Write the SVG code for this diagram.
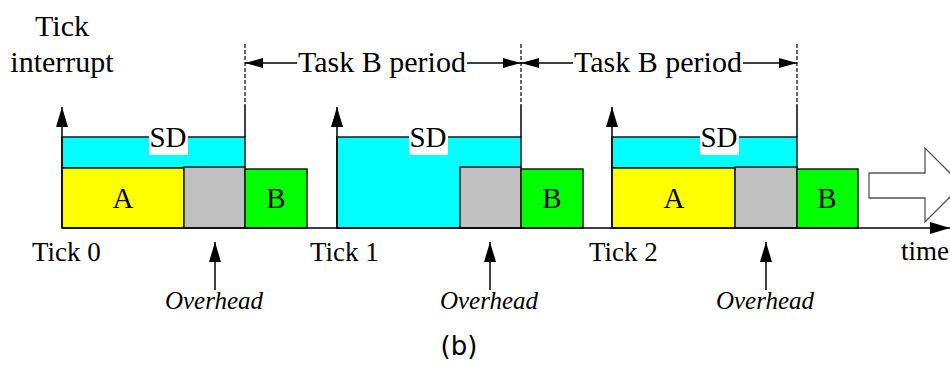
<svg xmlns="http://www.w3.org/2000/svg" width="950" height="365" viewBox="0 0 950 365">
  <defs>
    <marker id="tip" viewBox="0 0 20 12" refX="20" refY="6" markerWidth="20" markerHeight="12" markerUnits="userSpaceOnUse" orient="auto">
      <path d="M0,0 L20,6 L0,12 Z" fill="#000"/>
    </marker>
    <marker id="tipSmall" viewBox="0 0 18 10" refX="18" refY="5" markerWidth="18" markerHeight="10" markerUnits="userSpaceOnUse" orient="auto">
      <path d="M0,0 L18,5 L0,10 Z" fill="#000"/>
    </marker>
  </defs>
  <style>
    .serif { font-family: "Liberation Serif", "Times New Roman", serif; fill: #000; }
    .lbl { font-size: 29px; text-anchor: middle; }
    .title { font-size: 30px; text-anchor: middle; }
    .period { font-size: 30px; text-anchor: middle; }
    .tick { font-size: 27px; }
    .ovh { font-size: 25px; font-style: italic; text-anchor: middle; }
    .box { stroke: #1a1a1a; stroke-width: 1.5; }
    .sd { fill: #00ffff; }
    .a { fill: #ffff00; }
    .ov { fill: #c0c0c0; }
    .b { fill: #00ff00; }
    .axis { stroke: #000; stroke-width: 1.5; fill: none; }
    .dash { stroke: #000; stroke-width: 1.2; stroke-dasharray: 4 2; fill: none; }
    .cap { font-family: "DejaVu Sans", "Liberation Sans", sans-serif; font-size: 26px; text-anchor: middle; fill: #000; }
  </style>

  <rect width="950" height="365" fill="#fff"/>

  <!-- left title -->
  <g id="title">
    <text class="serif title" x="62" y="36">Tick</text>
    <text class="serif title" x="62" y="72">interrupt</text>
  </g>

  <!-- tick 0 frame -->
  <g id="frame0">
    <rect class="box sd" x="62" y="137" width="183" height="31"/>
    <rect class="box a" x="62" y="168" width="122" height="60"/>
    <rect class="box ov" x="184" y="167" width="61" height="61"/>
    <rect class="box b" x="245" y="169" width="62" height="59"/>
    <rect x="149" y="123" width="39" height="32" fill="#fff"/>
    <text class="serif lbl" x="168" y="147">SD</text>
    <text class="serif lbl" x="123" y="208">A</text>
    <text class="serif lbl" x="276" y="208">B</text>
  </g>

  <!-- tick 1 frame -->
  <g id="frame1">
    <rect class="box sd" x="337" y="137" width="184" height="91"/>
    <rect class="box ov" x="460" y="167" width="61" height="61"/>
    <rect class="box b" x="521" y="169" width="62" height="59"/>
    <rect x="409" y="123" width="39" height="32" fill="#fff"/>
    <text class="serif lbl" x="428" y="147">SD</text>
    <text class="serif lbl" x="552" y="208">B</text>
  </g>

  <!-- tick 2 frame -->
  <g id="frame2">
    <rect class="box sd" x="612" y="137" width="185" height="31"/>
    <rect class="box a" x="612" y="168" width="123" height="60"/>
    <rect class="box ov" x="735" y="167" width="62" height="61"/>
    <rect class="box b" x="797" y="169" width="61" height="59"/>
    <rect x="700" y="123" width="39" height="32" fill="#fff"/>
    <text class="serif lbl" x="719" y="147">SD</text>
    <text class="serif lbl" x="674" y="208">A</text>
    <text class="serif lbl" x="827" y="208">B</text>
  </g>

  <!-- hollow continuation arrow -->
  <g id="continue">
    <path d="M869,173 L925,173 L925,148 L962,185 L925,222 L925,198 L869,198 Z" fill="#fff" stroke="#555" stroke-width="1.3"/>
  </g>

  <!-- axis and tick labels -->
  <g id="labels">
    <text class="serif tick" x="32" y="261">Tick 0</text>
    <text class="serif tick" x="310" y="261">Tick 1</text>
    <text class="serif tick" x="589" y="261">Tick 2</text>
    <text class="serif tick" x="901" y="260">time</text>
    <text class="serif ovh" x="214" y="309">Overhead</text>
    <text class="serif ovh" x="489" y="309">Overhead</text>
    <text class="serif ovh" x="765" y="309">Overhead</text>
  </g>

  <!-- period labels -->
  <g id="periods">
    <text class="serif period" x="382" y="72">Task B period</text>
    <text class="serif period" x="658" y="72">Task B period</text>
  </g>

  <g id="connectors">
    <!-- time axis -->
    <line class="axis" x1="62" y1="228" x2="950" y2="228" marker-end="url(#tip)"/>
    <!-- tick interrupt arrows -->
    <line class="axis" x1="62" y1="228" x2="62" y2="107" marker-end="url(#tip)"/>
    <line class="axis" x1="337" y1="228" x2="337" y2="107" marker-end="url(#tip)"/>
    <line class="axis" x1="612" y1="228" x2="612" y2="107" marker-end="url(#tip)"/>
    <!-- period boundaries -->
    <line class="dash" x1="245" y1="44" x2="245" y2="105"/>
    <line class="axis" x1="245" y1="105" x2="245" y2="137"/>
    <line class="dash" x1="521" y1="44" x2="521" y2="105" stroke="#555"/>
    <line class="axis" x1="521" y1="105" x2="521" y2="137"/>
    <line class="dash" x1="797" y1="44" x2="797" y2="105"/>
    <line class="axis" x1="797" y1="105" x2="797" y2="137"/>
    <!-- period dimension arrows -->
    <line class="axis" x1="297" y1="63" x2="245" y2="63" marker-end="url(#tipSmall)"/>
    <line class="axis" x1="467" y1="63" x2="521" y2="63" marker-end="url(#tipSmall)"/>
    <line class="axis" x1="573" y1="63" x2="521" y2="63" marker-end="url(#tipSmall)"/>
    <line class="axis" x1="743" y1="63" x2="797" y2="63" marker-end="url(#tipSmall)"/>
    <!-- overhead pointers -->
    <line class="axis" x1="215" y1="290" x2="215" y2="242" marker-end="url(#tip)"/>
    <line class="axis" x1="490" y1="290" x2="490" y2="242" marker-end="url(#tip)"/>
    <line class="axis" x1="766" y1="290" x2="766" y2="242" marker-end="url(#tip)"/>
  </g>

  <text class="cap" x="459" y="355">(b)</text>
</svg>
